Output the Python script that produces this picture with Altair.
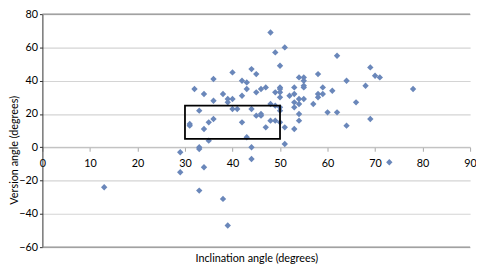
import altair as alt
import pandas as pd

# Inclination angle (x) and version angle (y)
incl = [13, 29, 29, 31, 31, 33, 33, 34, 33, 35, 38, 39,
        33, 34, 35, 36, 40, 41, 42, 43, 44, 44, 51, 73,
        32, 34, 36, 38, 36, 39, 39, 40, 40, 42, 43, 43, 42, 44, 45, 44, 45, 46, 47,
        48, 51, 49, 50,
        49, 50, 50, 50, 50,
        48, 49, 50,
        45, 46, 46,
        47, 48, 49, 50, 50,
        51, 53, 54, 54, 53,
        53, 54, 54, 55,
        52, 53, 53, 54, 55, 55, 55, 55,
        57, 58, 58, 58, 59, 59,
        60, 62, 61, 62, 64, 64, 66, 68, 69, 70, 71, 69, 78]
vers = [-24, -3, -15, 14, 13, 0, -1, -12, -26, 4, -31, -47,
        22, 11, 15, 17, 23, 23, 15, 6, 0, -7, 2, -9,
        35, 32, 41, 32, 28, 29, 27, 29, 45, 40, 39, 35, 31, 47, 44, 23, 33, 35, 36,
        69, 60, 57, 49,
        33, 36, 35, 33, 30,
        26, 25, 24,
        19, 20, 19,
        12, 16, 16, 15, 22,
        12, 11, 16, 20, 24,
        27, 29, 26, 29,
        31, 32, 36, 42, 42, 40, 37, 36,
        26, 44, 32, 30, 32, 36,
        21, 21, 34, 55, 40, 13, 27, 37, 48, 43, 42, 17, 35]

# Highlight box
box_x = [30]
box_x2 = [50]
box_y = [5]
box_y2 = [25]

x_ticks = [0, 10, 20, 30, 40, 50, 60, 70, 80, 90]
y_ticks = [-60, -40, -20, 0, 20, 40, 60, 80]
edge_lines = [80, -60]

W = 435
H = 237
TOP = 4
LEFT = 35

df = pd.DataFrame({"incl": incl, "vers": vers})
box = pd.DataFrame({"x": box_x, "x2": box_x2, "y": box_y, "y2": box_y2})
edges = pd.DataFrame({"v": edge_lines})

xscale = alt.Scale(domain=[0, 90], nice=False, zero=False)
yscale = alt.Scale(domain=[-60, 80], nice=False, zero=False)

zero_offset = -H * 60 / 140.0          # x axis crosses at y = 0
x_title_y = (261 - 8 - TOP) - (H + zero_offset)
y_title_y = 150 - 8 - TOP

x_axis = alt.Axis(values=x_ticks, title="Inclination angle (degrees)",
                  grid=False, offset=zero_offset,
                  domainColor="#bdbdbd", tickColor="#a8a8a8",
                  tickSize=4, labelPadding=7, labelFlush=False,
                  labelOverlap=False, titleY=x_title_y,
                  titleBaseline="middle")
y_axis = alt.Axis(values=y_ticks, title="Version angle (degrees)",
                  grid=True, gridColor="#d4d4d4", gridWidth=1.2,
                  domainColor="#303030", tickColor="#303030",
                  tickSize=3, labelPadding=2, labelFlush=False,
                  labelOverlap=False,
                  titleX=-28, titleY=y_title_y, titleBaseline="middle",
                  titleAlign="center")

points = alt.Chart(df).mark_point(
    shape="diamond", filled=True, size=42, color="#6a87ba", opacity=1
).encode(
    x=alt.X("incl:Q", scale=xscale, axis=x_axis),
    y=alt.Y("vers:Q", scale=yscale, axis=y_axis),
)

grid = alt.Chart(edges).mark_rule(color="#909090", strokeWidth=1.2).encode(
    y=alt.Y("v:Q", scale=yscale, axis=y_axis)
)

rect = alt.Chart(box).mark_rect(
    filled=False, stroke="black", strokeWidth=1.8
).encode(
    x=alt.X("x:Q", scale=xscale, axis=x_axis), x2="x2:Q",
    y=alt.Y("y:Q", scale=yscale, axis=y_axis), y2="y2:Q",
)

chart = alt.layer(points, grid, rect).properties(
    width=W, height=H,
    autosize=alt.AutoSizeParams(type="none"),
    padding={"left": LEFT, "top": TOP, "right": 6, "bottom": 22},
).configure_view(stroke=None).configure_axis(
    labelFont="Lato", titleFont="Lato", labelFontSize=11, titleFontSize=11,
    titleFontWeight="normal", labelColor="#000000", titleColor="#000000",
)

chart.save("out.html", embed_options={"renderer": "svg", "actions": False})
